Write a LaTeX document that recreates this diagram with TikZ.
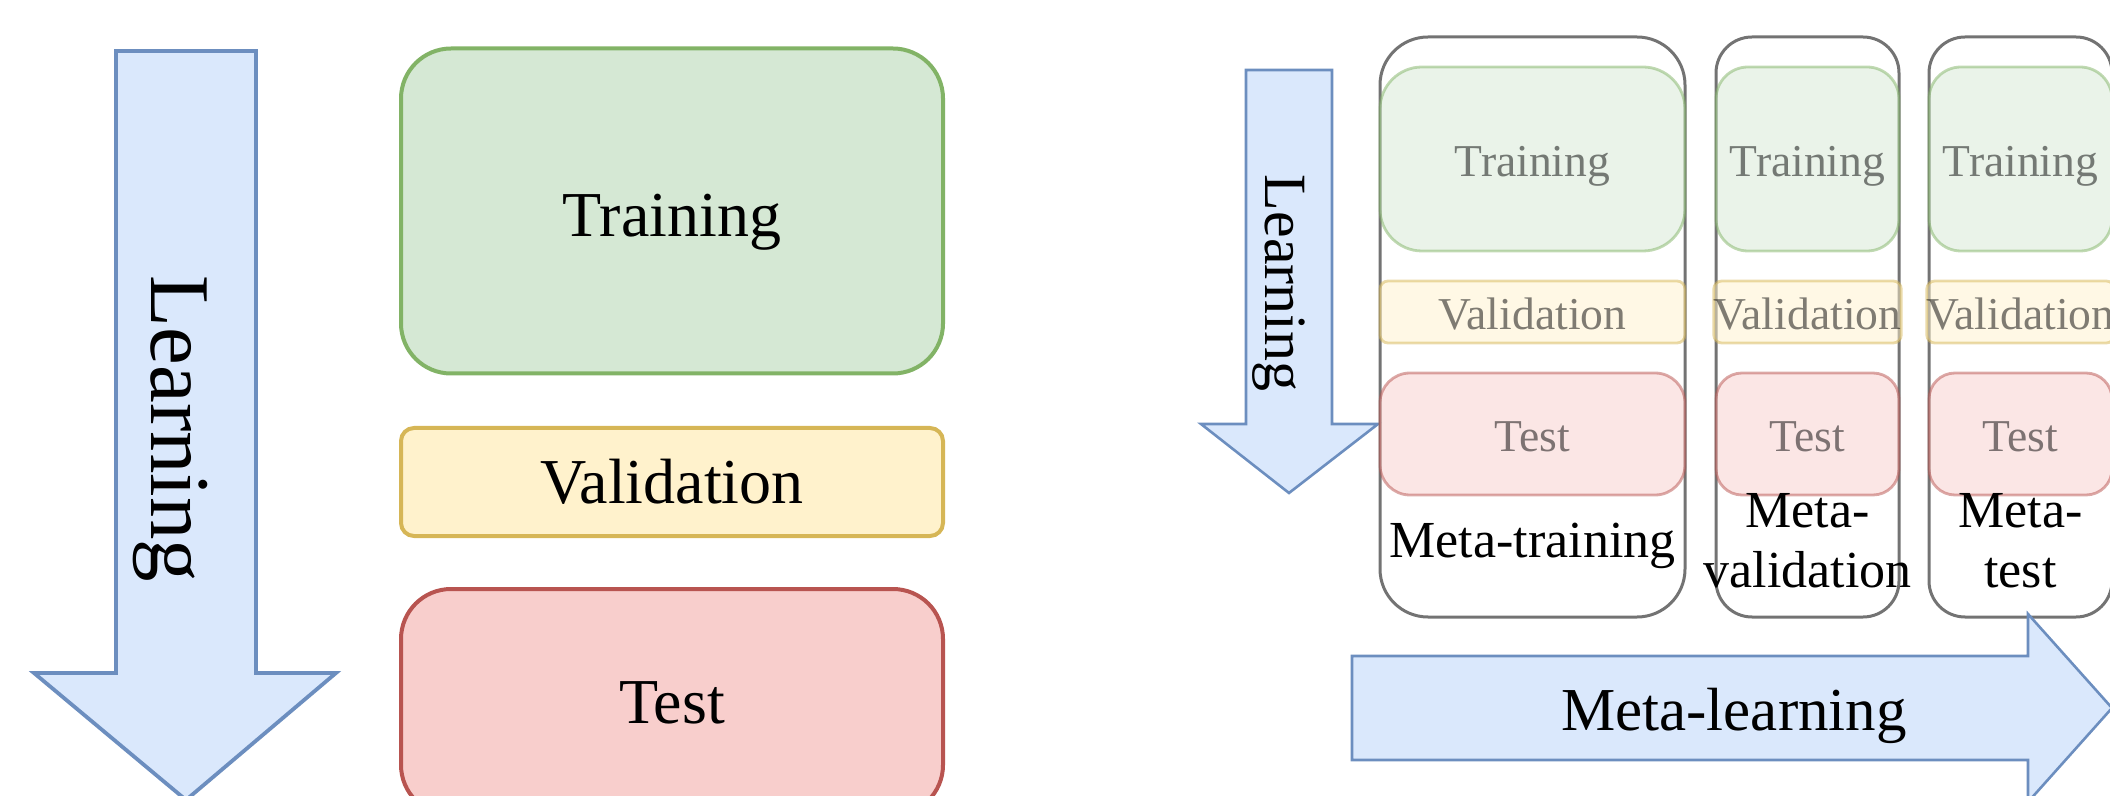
\documentclass[tikz,border=0pt]{standalone}
\usepackage{fontspec}
\setmainfont{Liberation Serif}
\definecolor{arrfill}{HTML}{DAE8FC}
\definecolor{arrline}{HTML}{6C8EBF}
\definecolor{trfill}{HTML}{D5E8D4}
\definecolor{trline}{HTML}{82B366}
\definecolor{vafill}{HTML}{FFF2CC}
\definecolor{valine}{HTML}{D6B656}
\definecolor{tefill}{HTML}{F8CECC}
\definecolor{teline}{HTML}{B85450}
\definecolor{colline}{HTML}{737373}
\begin{document}
\begin{tikzpicture}[x=0.5pt,y=-0.5pt,
  bigbox/.style={draw, line width=2pt, inner sep=0pt, minimum width=271pt,
    font=\fontsize{32}{38}\selectfont, text height=28.8pt, text depth=7.7pt},
  trbox/.style={bigbox, fill=trfill, draw=trline},
  vabox/.style={bigbox, fill=vafill, draw=valine},
  tebox/.style={bigbox, fill=tefill, draw=teline},
  inbox/.style={draw, line width=1.4pt, inner sep=0pt, opacity=0.5,
    font=\fontsize{22.8}{27}\selectfont, text height=23pt, text depth=5.4pt},
  itr/.style={inbox, fill=trfill, draw=trline, minimum height=92pt},
  iva/.style={inbox, fill=vafill, draw=valine, minimum height=31pt, rounded corners=4pt},
  ite/.style={inbox, fill=tefill, draw=teline, minimum height=61pt},
  colbox/.style={draw=colline, line width=1.5pt, inner sep=0pt, minimum height=290pt},
  arrowshape/.style={fill=arrfill, draw=arrline, line join=miter},
  lbl/.style={font=\fontsize{26}{30}\selectfont, inner sep=0pt},
  rottext/.style={anchor=base, rotate=-90, inner sep=0pt}
]
\useasboundingbox (0,0) rectangle (2110,796);
\clip (0,0) rectangle (2110,796);

% ---------- left part ----------
\draw[arrowshape, line width=1.9pt] (116,51) -- (256,51) -- (256,673) -- (336,673)
  -- (186,800) -- (34,673) -- (116,673) -- cycle;
\node[rottext, font=\fontsize{42.5}{50}\selectfont] (learn) at (151,429) {Learning};

\node[trbox, minimum height=162.5pt, rounded corners=25pt, text height=33pt] (train) at (672,211) {Training};
\node[vabox, minimum height=54pt, rounded corners=6.5pt] (val) at (672,482) {Validation};
\node[tebox, minimum height=113pt, rounded corners=25pt] (test) at (672,702) {Test};

% ---------- right part ----------
\draw[arrowshape, line width=1.3pt] (1246,70) -- (1332,70) -- (1332,424) -- (1378,424)
  -- (1289,493) -- (1201,424) -- (1246,424) -- cycle;
\node[rottext, font=\fontsize{30}{36}\selectfont] (learn2) at (1265,283) {Learning};

\node[colbox, minimum width=152.5pt, rounded corners=24pt] (c1) at (1532.5,327) {};
\node[colbox, minimum width=91.5pt, rounded corners=18pt] (c2) at (1807.5,327) {};
\node[colbox, minimum width=91.5pt, rounded corners=18pt] (c3) at (2020.5,327) {};

\node[itr, minimum width=152.5pt, rounded corners=21pt] (tr1) at (1532.5,159) {Training};
\node[iva, minimum width=152.5pt] (va1) at (1532.5,312) {Validation};
\node[ite, minimum width=152.5pt, rounded corners=15pt] (te1) at (1532.5,434) {Test};

\node[itr, minimum width=91.5pt, rounded corners=16pt] (tr2) at (1807.5,159) {Training};
\node[iva, minimum width=91.5pt] (va2) at (1807.5,312) {Validation};
\node[ite, minimum width=91.5pt, rounded corners=13pt] (te2) at (1807.5,434) {Test};

\node[itr, minimum width=91.5pt, rounded corners=16pt] (tr3) at (2020.5,159) {Training};
\node[iva, minimum width=91.5pt] (va3) at (2020.5,312) {Validation};
\node[ite, minimum width=91.5pt, rounded corners=13pt] (te3) at (2020.5,434) {Test};

\node[lbl, anchor=base] (l1) at (1532.5,557) {Meta-training};
\node[lbl, align=center] (l2) at (1807.5,541) {Meta-\\validation};
\node[lbl, align=center] (l3) at (2020.5,541) {Meta-\\test};

\draw[arrowshape, line width=1.3pt] (1352,656) -- (2028,656) -- (2028,614) -- (2112,708)
  -- (2028,802) -- (2028,760) -- (1352,760) -- cycle;
\node[anchor=base, inner sep=0pt, font=\fontsize{30.5}{36}\selectfont] (ml) at (1734,730) {Meta-learning};
\end{tikzpicture}
\end{document}
